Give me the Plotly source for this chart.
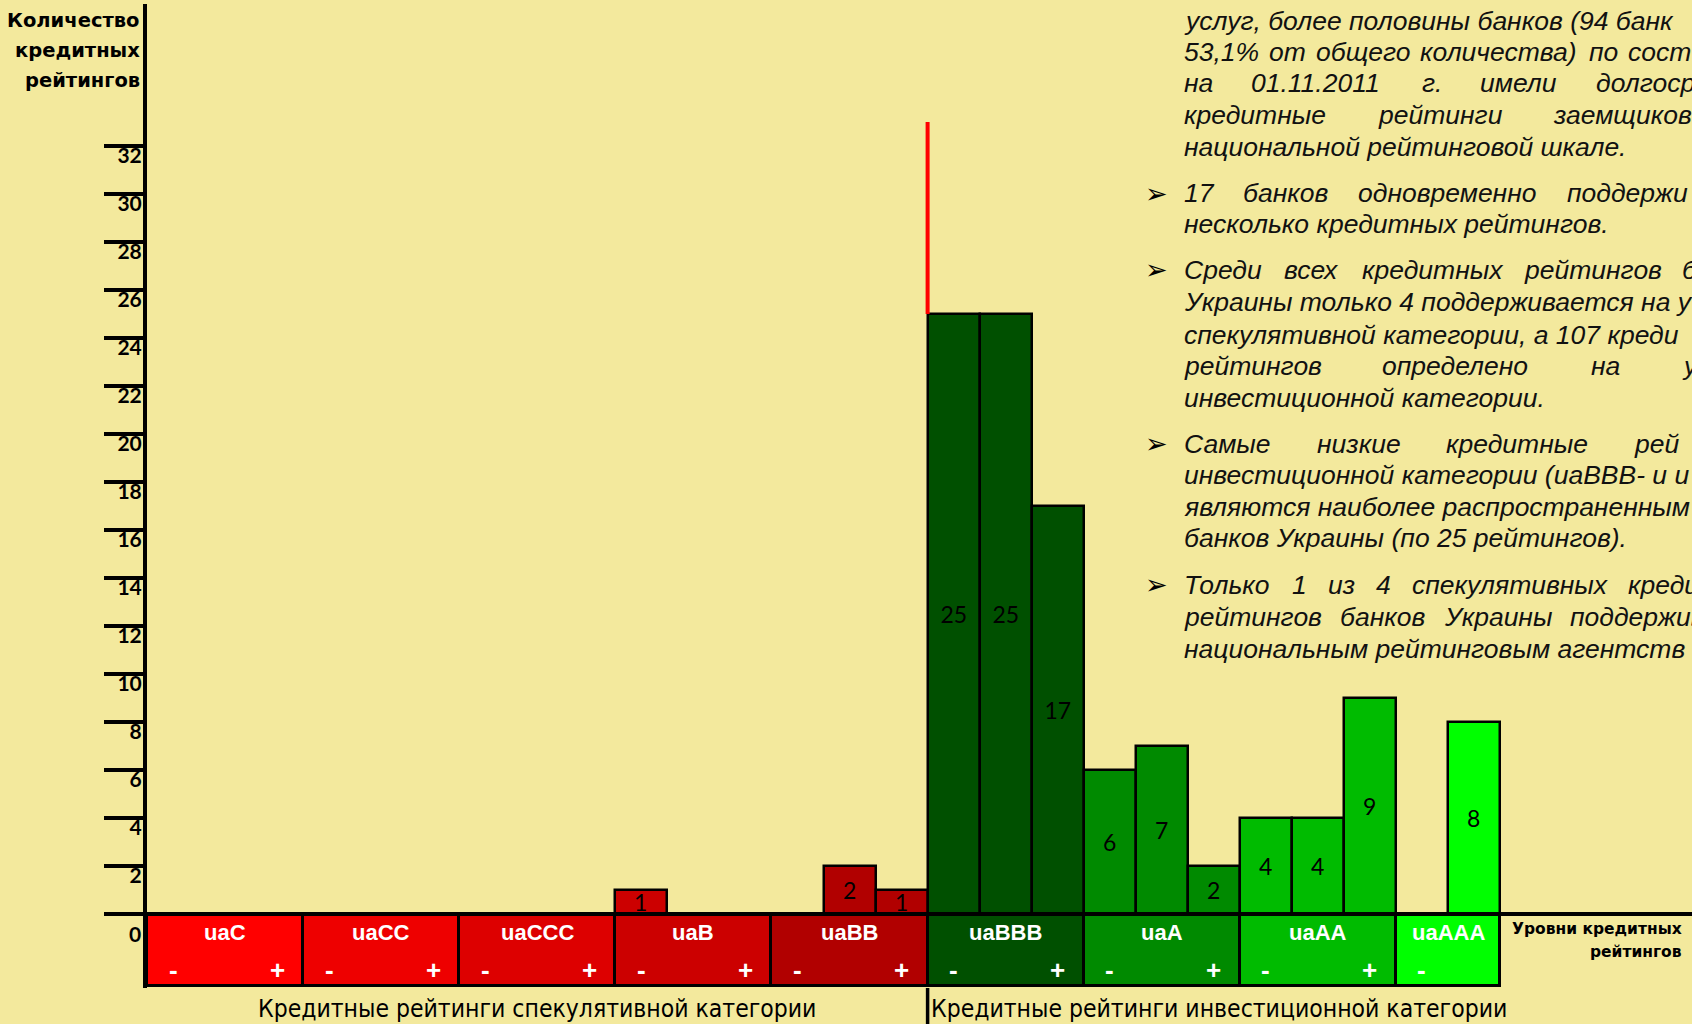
import plotly.graph_objects as go

# ---------------- data ----------------
categories = ["uaC", "uaCC", "uaCCC", "uaB", "uaBB", "uaBBB", "uaA", "uaAA", "uaAAA"]
# number of ratings per sub-level (-, middle, +) of each rating level
counts_uaC = [0, 0, 0]
counts_uaCC = [0, 0, 0]
counts_uaCCC = [0, 0, 0]
counts_uaB = [1, 0, 0]
counts_uaBB = [0, 2, 1]
counts_uaBBB = [25, 25, 17]
counts_uaA = [6, 7, 2]
counts_uaAA = [4, 4, 9]
counts_uaAAA = [0, 8]
rating_counts = [counts_uaC, counts_uaCC, counts_uaCCC, counts_uaB, counts_uaBB,
                 counts_uaBBB, counts_uaA, counts_uaAA, counts_uaAAA]
category_colors = ["#FF0000", "#EE0000", "#DD0000", "#CC0000", "#B10000",
                   "#005000", "#008A00", "#00BB00", "#00FF00"]
y_tick_values = list(range(0, 33, 2))
n_speculative = 5  # first five levels are speculative
y_title = ["Количество", "кредитных", "рейтингов"]
x_title = ["Уровни кредитных", "рейтингов"]
group_labels = ["Кредитные рейтинги спекулятивной категории",
                "Кредитные рейтинги инвестиционной категории"]

# ---------------- geometry / style ----------------
W, H = 1692, 1024
BG = "#F3E99D"
ML, MR, MT, MB = 147, 0, 4, 36
SLOT_PX = 52.04
UNIT_PX = 24.0
Y0_PX = 914.0
BAND = 3
DIVIDER_TOP = 33
plot_w = W - ML - MR
plot_h = H - MT - MB
x_range = [-0.5, -0.5 + plot_w / SLOT_PX]
y_top = (Y0_PX - MT) / UNIT_PX
y_bot = -(H - MB - Y0_PX) / UNIT_PX
S = 1692 / 1568  # reference measurement scale


def px(X):
    return (X - ML) / plot_w


def py(Y):
    return (H - MB - Y) / plot_h


# build slots
slot_x, slot_y, slot_c, slot_t = [], [], [], []
cat_centers, cat_widths = [], []
sign_ann = []
pos = 0
for cat, cnts, col in zip(categories, rating_counts, category_colors):
    n = len(cnts)
    cat_centers.append(pos + (n - 1) / 2)
    cat_widths.append(n)
    for i, v in enumerate(cnts):
        slot_x.append(pos + i)
        slot_y.append(v)
        slot_c.append(col)
        slot_t.append(str(v) if v else "")
    sign_ann.append((pos, "-"))
    if n >= 3:
        sign_ann.append((pos + 2, "+"))
    pos += n

sep_x = sum(cat_widths[:n_speculative]) - 0.5

fig = go.Figure()
fig.add_bar(x=cat_centers, y=[-BAND] * len(categories), width=cat_widths,
            marker=dict(color=category_colors, line=dict(color="black", width=3)),
            hoverinfo="skip", showlegend=False)
fig.add_bar(x=slot_x, y=slot_y, width=1,
            marker=dict(color=slot_c, line=dict(color="black", width=2.5)),
            text=slot_t, textposition="inside", insidetextanchor="middle",
            textangle=0,
            textfont=dict(family="Lato, Carlito, sans-serif", size=23, color="black"),
            showlegend=False)

ann = []
for c, name in zip(cat_centers, categories):
    ann.append(dict(x=c, y=0, xref="x", yref="y", text=name, showarrow=False,
                    yshift=-18, yanchor="middle",
                    font=dict(family="Liberation Sans, Arial, sans-serif", size=22,
                              color="white", weight="bold")))
for sx, s in sign_ann:
    ann.append(dict(x=sx, y=0, xref="x", yref="y", text=s, showarrow=False,
                    yshift=-56, yanchor="middle",
                    font=dict(family="Liberation Sans, Arial, sans-serif", size=26,
                              color="white", weight="bold")))

# axis titles
for txt, yy in zip(y_title, [20.7, 51, 80]):
    ann.append(dict(x=px(142), y=py(yy), xref="paper", yref="paper", text=txt,
                    showarrow=False, xanchor="right", yanchor="middle",
                    font=dict(family="DejaVu Sans, Verdana, sans-serif", size=19.5,
                              color="black", weight="bold")))
for txt, yy in zip(x_title, [929, 952]):
    ann.append(dict(x=px(1684), y=py(yy), xref="paper", yref="paper", text=txt,
                    showarrow=False, xanchor="right", yanchor="middle",
                    font=dict(family="DejaVu Sans, Verdana, sans-serif", size=15.5,
                              color="black", weight="bold")))
ann.append(dict(x=px(143), y=py(933), xref="paper", yref="paper", text="0",
                showarrow=False, xanchor="right", yanchor="middle",
                font=dict(family="Lato, sans-serif", size=21, color="black", weight="bold")))

narrow = "Liberation Sans Narrow, Arial Narrow, DejaVu Sans Condensed, sans-serif"
ann.append(dict(x=px(537), y=py(1008), xref="paper", yref="paper", text=group_labels[0],
                showarrow=False, xanchor="center", yanchor="middle",
                font=dict(family=narrow, size=24.5, color="black")))
ann.append(dict(x=px(929), y=py(1008), xref="paper", yref="paper", text=group_labels[1],
                showarrow=False, xanchor="left", yanchor="middle",
                font=dict(family=narrow, size=24.5, color="black")))

# ---------------- commentary panel ----------------
# approximate Arial Italic advance widths (per em) for the justified layout
_w = {' ': .278, ',': .278, '.': .278, '%': .889, '(': .333, ')': .333, '-': .333,
      'u': .556, 'a': .556, 'B': .667,
      'а': .556, 'б': .573, 'в': .531, 'г': .458, 'д': .556, 'е': .556, 'ж': .669,
      'з': .458, 'и': .556, 'й': .556, 'к': .438, 'л': .583, 'м': .688, 'н': .552,
      'о': .556, 'п': .556, 'р': .556, 'с': .500, 'т': .833, 'у': .500, 'ф': .823,
      'х': .500, 'ц': .573, 'ч': .521, 'ш': .802, 'щ': .823, 'ъ': .625, 'ы': .719,
      'ь': .521, 'э': .510, 'ю': .750, 'я': .542,
      'С': .722, 'У': .667, 'Т': .611}
TSIZE = 26.5
KCORR = 1.0


def tw(s):
    return sum(_w.get(ch, .556) for ch in s) * TSIZE * KCORR


NAT_GAP = tw(" ") * 1.15
LEFT = 1098 * S - 3
# (line y in ref px shrunk, text, x of last visible word in ref px shrunk or None)
panel_lines = [
    (19, "услуг, более половины банков (94 банк", None),
    (48, "53,1% от общего количества) по сост", 1510),
    (77, "на 01.11.2011 г. имели долгоср", 1480),
    (107, "кредитные рейтинги заемщиков", 1440),
    (136, "национальной рейтинговой шкале.", None),
    (179, "17 банков одновременно поддержи", 1453),
    (208, "несколько кредитных рейтингов.", None),
    (250, "Среди всех кредитных рейтингов б", 1560),
    (280, "Украины только 4 поддерживается на у", None),
    (310, "спекулятивной категории, а 107 креди", 1467),
    (339, "рейтингов определено на у", 1560),
    (369, "инвестиционной категории.", None),
    (411, "Самые низкие кредитные рей", 1515),
    (440, "инвестиционной категории (uaBBB- и u", None),
    (470, "являются наиболее распространенным", None),
    (499, "банков Украины (по 25 рейтингов).", None),
    (542, "Только 1 из 4 спекулятивных креди", 1510),
    (572, "рейтингов банков Украины поддержив", 1456),
    (601, "национальным рейтинговым агентств", None),
]
bullets = [179, 250, 411, 542]
tfont = dict(family="Liberation Sans, Arial, sans-serif", size=TSIZE, color="#111111")
for yy, line, last_x in panel_lines:
    words = line.split(" ")
    placed = [(LEFT, line)]
    if last_x is not None:
        xl = last_x * S - 3
        gap = (xl - LEFT - sum(tw(w) for w in words[:-1])) / (len(words) - 1)
        if gap > NAT_GAP:
            placed, x = [], LEFT
            for w in words:
                placed.append((x, w))
                x += tw(w) + gap
    for xx, w in placed:
        ann.append(dict(x=px(xx), y=py(yy * S), xref="paper", yref="paper",
                        text="<i>" + w + "</i>", showarrow=False,
                        xanchor="left", yanchor="middle", font=tfont))
for yy in bullets:
    ann.append(dict(x=px(1072 * S), y=py(yy * S), xref="paper", yref="paper",
                    text="➢", showarrow=False, xanchor="center", yanchor="middle",
                    font=dict(family="DejaVu Sans, sans-serif", size=27, color="black")))

shapes = [
    # baseline at zero across the plot
    dict(type="line", xref="paper", yref="y", x0=0, x1=1, y0=0, y1=0,
         line=dict(color="black", width=4), layer="above"),
    # red divider above the investment-grade boundary
    dict(type="line", xref="x", yref="y", x0=sep_x, x1=sep_x,
         y0=max(counts_uaBBB), y1=DIVIDER_TOP, line=dict(color="#FF0000", width=4)),
    # black separator under the band
    dict(type="line", xref="x", yref="paper", x0=sep_x, x1=sep_x,
         y0=py(H), y1=0, line=dict(color="black", width=3.5)),
]

fig.update_layout(
    width=W, height=H, autosize=False,
    margin=dict(l=ML, r=MR, t=MT, b=MB, pad=0),
    paper_bgcolor=BG, plot_bgcolor=BG,
    barmode="overlay", bargap=0,
    uniformtext=dict(minsize=23, mode="show"),
    showlegend=False,
    annotations=ann, shapes=shapes,
    xaxis=dict(range=x_range, showgrid=False, zeroline=False, showticklabels=False,
               showline=False, ticks="", fixedrange=True),
    yaxis=dict(range=[y_bot, y_top], tickvals=y_tick_values,
               ticktext=[""] + [str(v) for v in y_tick_values[1:]],
               ticks="outside", ticklen=39, tickwidth=4, tickcolor="black",
               showline=True, linewidth=4, linecolor="black",
               showgrid=False, zeroline=False,
               tickfont=dict(family="Lato, sans-serif", size=21, color="black", weight="bold"),
               ticklabelstandoff=-42, ticklabelshift=10, fixedrange=True),
)

fig.write_html("out.html", config={"displayModeBar": False},
               post_script="document.body.style.margin='0';document.body.style.overflow='hidden';")
